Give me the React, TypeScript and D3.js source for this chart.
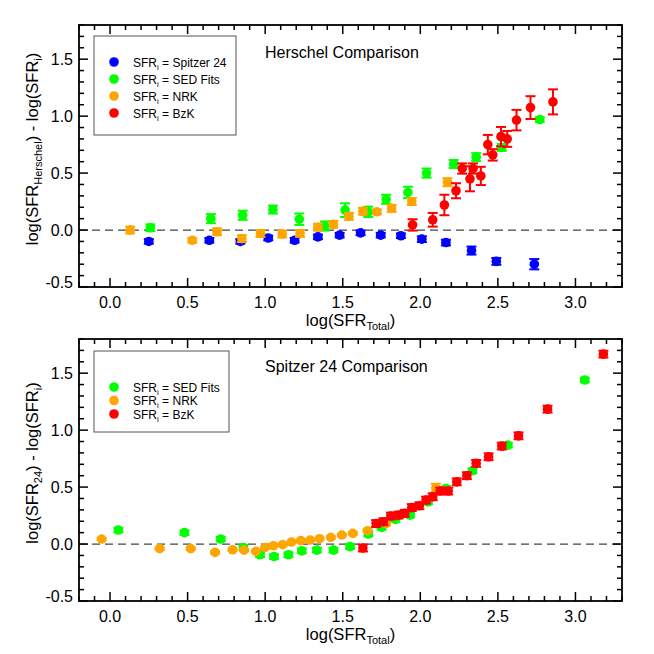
import React from "react";
import * as d3 from "d3";

// ---------- data ----------
const blueTopX = [0.25, 0.64, 0.84, 1.02, 1.19, 1.34, 1.48, 1.615, 1.745, 1.875, 2.01, 2.165, 2.33, 2.49, 2.735];
const blueTopY = [-0.10, -0.09, -0.10, -0.07, -0.09, -0.06, -0.045, -0.025, -0.045, -0.05, -0.08, -0.11, -0.18, -0.275, -0.30];
const blueTopE = [0.02, 0.02, 0.02, 0.02, 0.02, 0.02, 0.02, 0.02, 0.02, 0.02, 0.025, 0.025, 0.035, 0.03, 0.045];

const greenTopX = [0.26, 0.65, 0.855, 1.05, 1.22, 1.385, 1.515, 1.665, 1.78, 1.92, 2.04, 2.215, 2.36, 2.525, 2.77];
const greenTopY = [0.02, 0.10, 0.13, 0.18, 0.095, 0.035, 0.175, 0.16, 0.27, 0.33, 0.50, 0.58, 0.64, 0.725, 0.97];
const greenTopE = [0.03, 0.04, 0.04, 0.035, 0.05, 0.04, 0.06, 0.045, 0.04, 0.05, 0.04, 0.035, 0.035, 0.03, 0.02];

const orangeTopX = [0.13, 0.53, 0.69, 0.85, 0.97, 1.11, 1.225, 1.34, 1.44, 1.54, 1.63, 1.72, 1.815, 1.945, 2.175];
const orangeTopY = [0.0, -0.09, -0.015, -0.075, -0.03, -0.035, -0.03, 0.025, 0.05, 0.12, 0.165, 0.16, 0.19, 0.25, 0.42];
const orangeTopE = [0.03, 0.02, 0.03, 0.03, 0.03, 0.03, 0.03, 0.03, 0.03, 0.03, 0.03, 0.02, 0.03, 0.03, 0.035];

const redTopX = [1.95, 2.08, 2.155, 2.23, 2.27, 2.32, 2.34, 2.39, 2.435, 2.467, 2.52, 2.56, 2.62, 2.71, 2.855];
const redTopY = [0.045, 0.09, 0.22, 0.345, 0.54, 0.45, 0.54, 0.475, 0.75, 0.66, 0.82, 0.80, 0.965, 1.075, 1.125];
const redTopE = [0.05, 0.06, 0.09, 0.066, 0.045, 0.11, 0.045, 0.08, 0.085, 0.05, 0.085, 0.07, 0.09, 0.1, 0.11];

const greenBotX = [0.054, 0.48, 0.714, 0.86, 0.967, 1.057, 1.15, 1.236, 1.333, 1.44, 1.547, 1.665, 1.75, 1.84, 1.934, 2.05, 2.166, 2.336, 2.564, 3.06];
const greenBotY = [0.123, 0.10, 0.044, -0.03, -0.094, -0.11, -0.094, -0.06, -0.053, -0.053, -0.023, 0.088, 0.146, 0.216, 0.254, 0.37, 0.488, 0.643, 0.868, 1.44];
const greenBotE = [0.02, 0.02, 0.02, 0.02, 0.02, 0.02, 0.02, 0.02, 0.02, 0.02, 0.02, 0.02, 0.02, 0.02, 0.02, 0.02, 0.02, 0.02, 0.02, 0.02];

const orangeBotX = [-0.054, 0.32, 0.52, 0.677, 0.79, 0.864, 0.94, 1.0, 1.053, 1.113, 1.17, 1.23, 1.29, 1.35, 1.423, 1.494, 1.565, 1.66, 1.78, 2.1];
const orangeBotY = [0.044, -0.04, -0.04, -0.073, -0.05, -0.053, -0.064, -0.03, -0.015, -0.006, 0.018, 0.03, 0.035, 0.047, 0.059, 0.079, 0.094, 0.117, 0.18, 0.494];
const orangeBotE = [0.01, 0.01, 0.01, 0.01, 0.01, 0.01, 0.01, 0.01, 0.01, 0.01, 0.01, 0.01, 0.01, 0.01, 0.01, 0.01, 0.01, 0.01, 0.015, 0.035];

const redBotX = [1.63, 1.715, 1.762, 1.81, 1.86, 1.9, 1.945, 1.994, 2.037, 2.08, 2.128, 2.18, 2.235, 2.3, 2.36, 2.44, 2.525, 2.633, 2.82, 3.18];
const redBotY = [-0.035, 0.18, 0.196, 0.246, 0.254, 0.27, 0.32, 0.336, 0.386, 0.415, 0.465, 0.465, 0.546, 0.6, 0.708, 0.766, 0.86, 0.95, 1.184, 1.667];
const redBotE = [0.03, 0.03, 0.03, 0.03, 0.03, 0.03, 0.03, 0.03, 0.03, 0.03, 0.03, 0.03, 0.03, 0.03, 0.03, 0.03, 0.03, 0.03, 0.03, 0.03];

const xMajorTicks = [0.0, 0.5, 1.0, 1.5, 2.0, 2.5, 3.0];
const yMajorTicks = [-0.5, 0.0, 0.5, 1.0, 1.5];

const topLegendLabels = ["Spitzer 24", "SED Fits", "NRK", "BzK"];
const botLegendLabels = ["SED Fits", "NRK", "BzK"];

// ---------- styles ----------
const FONT = "'Liberation Sans', Arial, Helvetica, sans-serif";
const BLUE = "#0000ff";
const GREEN = "#00ff00";
const ORANGE = "#ffa500";
const RED = "#ff0000";

const LEFT = 79;
const RIGHT = 622;
const PH = 262;

type Series = { xs: number[]; ys: number[]; es: number[]; color: string };

function Panel(props: {
  top: number;
  series: Series[];
  legendLabels: string[];
  legendColors: string[];
  legendBox: { x: number; y: number; w: number; h: number; first: number; step: number };
  title: string;
  ySub: string;
}) {
  const { top, series, legendLabels, legendColors, legendBox, title, ySub } = props;
  const bottom = top + PH;
  const x = d3.scaleLinear().domain([-0.2, 3.3]).range([LEFT, RIGHT]);
  const y = d3.scaleLinear().domain([-0.5, 1.8]).range([bottom, top]);
  const minorX = d3.range(-2, 34).map((i) => i / 10).filter((v) => !xMajorTicks.some((m) => Math.abs(m - v) < 1e-6));
  const minorY = d3.range(-5, 19).map((i) => i / 10).filter((v) => !yMajorTicks.some((m) => Math.abs(m - v) < 1e-6));
  const MAJ = 9;
  const MIN = 5;
  const ax = "#000";
  return (
    <g>
      {/* dashed zero line */}
      <line x1={LEFT} x2={RIGHT} y1={y(0)} y2={y(0)} stroke="#444" strokeWidth={1.2} strokeDasharray="8,5" />
      {/* data */}
      {series.map((s, si) => (
        <g key={si}>
          {s.xs.map((xv, i) => {
            const cx = x(xv);
            const cy = y(s.ys[i]);
            const y1 = y(s.ys[i] + s.es[i]);
            const y2 = y(s.ys[i] - s.es[i]);
            return (
              <g key={i}>
                <line x1={cx} x2={cx} y1={y1} y2={y2} stroke={s.color} strokeWidth={2} />
                <line x1={cx - 5} x2={cx + 5} y1={y1} y2={y1} stroke={s.color} strokeWidth={2} />
                <line x1={cx - 5} x2={cx + 5} y1={y2} y2={y2} stroke={s.color} strokeWidth={2} />
                <circle cx={cx} cy={cy} r={4.8} fill={s.color} />
              </g>
            );
          })}
        </g>
      ))}
      {/* frame */}
      <rect x={LEFT} y={top} width={RIGHT - LEFT} height={PH} fill="none" stroke={ax} strokeWidth={1.8} />
      {/* x ticks */}
      {xMajorTicks.map((v) => (
        <g key={"xm" + v}>
          <line x1={x(v)} x2={x(v)} y1={bottom} y2={bottom - MAJ} stroke={ax} strokeWidth={1.5} />
          <line x1={x(v)} x2={x(v)} y1={top} y2={top + MAJ} stroke={ax} strokeWidth={1.5} />
          <text x={x(v)} y={bottom + 21} textAnchor="middle" fontSize={16} fontFamily={FONT} fill="#000">
            {v.toFixed(1)}
          </text>
        </g>
      ))}
      {minorX.map((v) => (
        <g key={"xn" + v}>
          <line x1={x(v)} x2={x(v)} y1={bottom} y2={bottom - MIN} stroke={ax} strokeWidth={1.5} />
          <line x1={x(v)} x2={x(v)} y1={top} y2={top + MIN} stroke={ax} strokeWidth={1.5} />
        </g>
      ))}
      {/* y ticks */}
      {yMajorTicks.map((v) => (
        <g key={"ym" + v}>
          <line x1={LEFT} x2={LEFT + MAJ} y1={y(v)} y2={y(v)} stroke={ax} strokeWidth={1.5} />
          <line x1={RIGHT} x2={RIGHT - MAJ} y1={y(v)} y2={y(v)} stroke={ax} strokeWidth={1.5} />
          <text x={LEFT - 6} y={y(v) + 6 - (v === -0.5 ? 5 : 0)} textAnchor="end" fontSize={16} fontFamily={FONT} fill="#000">
            {v.toFixed(1)}
          </text>
        </g>
      ))}
      {minorY.map((v) => (
        <g key={"yn" + v}>
          <line x1={LEFT} x2={LEFT + MIN} y1={y(v)} y2={y(v)} stroke={ax} strokeWidth={1.5} />
          <line x1={RIGHT} x2={RIGHT - MIN} y1={y(v)} y2={y(v)} stroke={ax} strokeWidth={1.5} />
        </g>
      ))}
      {/* x label */}
      <text x={(LEFT + RIGHT) / 2} y={bottom + 39} textAnchor="middle" fontSize={16.5} fontFamily={FONT} fill="#000">
        log(SFR
        <tspan fontSize={11} dy={4}>Total</tspan>
        <tspan dy={-4}>)</tspan>
      </text>
      {/* y label */}
      <text
        transform={`translate(38, ${top + PH / 2 - 7}) rotate(-90)`}
        textAnchor="middle"
        fontSize={16.5}
        fontFamily={FONT}
        fill="#000"
      >
        log(SFR
        <tspan fontSize={11} dy={4}>{ySub}</tspan>
        <tspan dy={-4}>) - log(SFR</tspan>
        <tspan fontSize={11} dy={4}>i</tspan>
        <tspan dy={-4}>)</tspan>
      </text>
      {/* title */}
      <text x={265} y={top + 33} fontSize={16} fontFamily={FONT} fill="#000">
        {title}
      </text>
      {/* legend */}
      <rect x={legendBox.x} y={legendBox.y} width={legendBox.w} height={legendBox.h} fill="#fff" stroke="#555" strokeWidth={1} />
      {legendLabels.map((lab, i) => {
        const ly = legendBox.first + i * legendBox.step;
        return (
          <g key={lab}>
            <circle cx={114} cy={ly} r={4.8} fill={legendColors[i]} />
            <text x={133} y={ly + 4.5} fontSize={12} fontFamily={FONT} fill="#000">
              SFR
              <tspan fontSize={8} dy={3}>i</tspan>
              <tspan dy={-3}> = {lab}</tspan>
            </text>
          </g>
        );
      })}
    </g>
  );
}

export default function App() {
  const topSeries: Series[] = [
    { xs: blueTopX, ys: blueTopY, es: blueTopE, color: BLUE },
    { xs: greenTopX, ys: greenTopY, es: greenTopE, color: GREEN },
    { xs: orangeTopX, ys: orangeTopY, es: orangeTopE, color: ORANGE },
    { xs: redTopX, ys: redTopY, es: redTopE, color: RED },
  ];
  const botSeries: Series[] = [
    { xs: greenBotX, ys: greenBotY, es: greenBotE, color: GREEN },
    { xs: orangeBotX, ys: orangeBotY, es: orangeBotE, color: ORANGE },
    { xs: redBotX, ys: redBotY, es: redBotE, color: RED },
  ];
  return (
    <svg
      width={654}
      height={654}
      style={{ position: "absolute", left: 0, top: 0, background: "#fff" }}
    >
      <rect x={0} y={0} width={654} height={654} fill="#fff" />
      <Panel
        top={25}
        series={topSeries}
        legendLabels={topLegendLabels}
        legendColors={[BLUE, GREEN, ORANGE, RED]}
        legendBox={{ x: 94, y: 36, w: 142, h: 99, first: 62, step: 17 }}
        title="Herschel Comparison"
        ySub="Herschel"
      />
      <Panel
        top={339}
        series={botSeries}
        legendLabels={botLegendLabels}
        legendColors={[GREEN, ORANGE, RED]}
        legendBox={{ x: 94, y: 351, w: 135, h: 81, first: 387, step: 13.5 }}
        title="Spitzer 24 Comparison"
        ySub="24"
      />
    </svg>
  );
}
